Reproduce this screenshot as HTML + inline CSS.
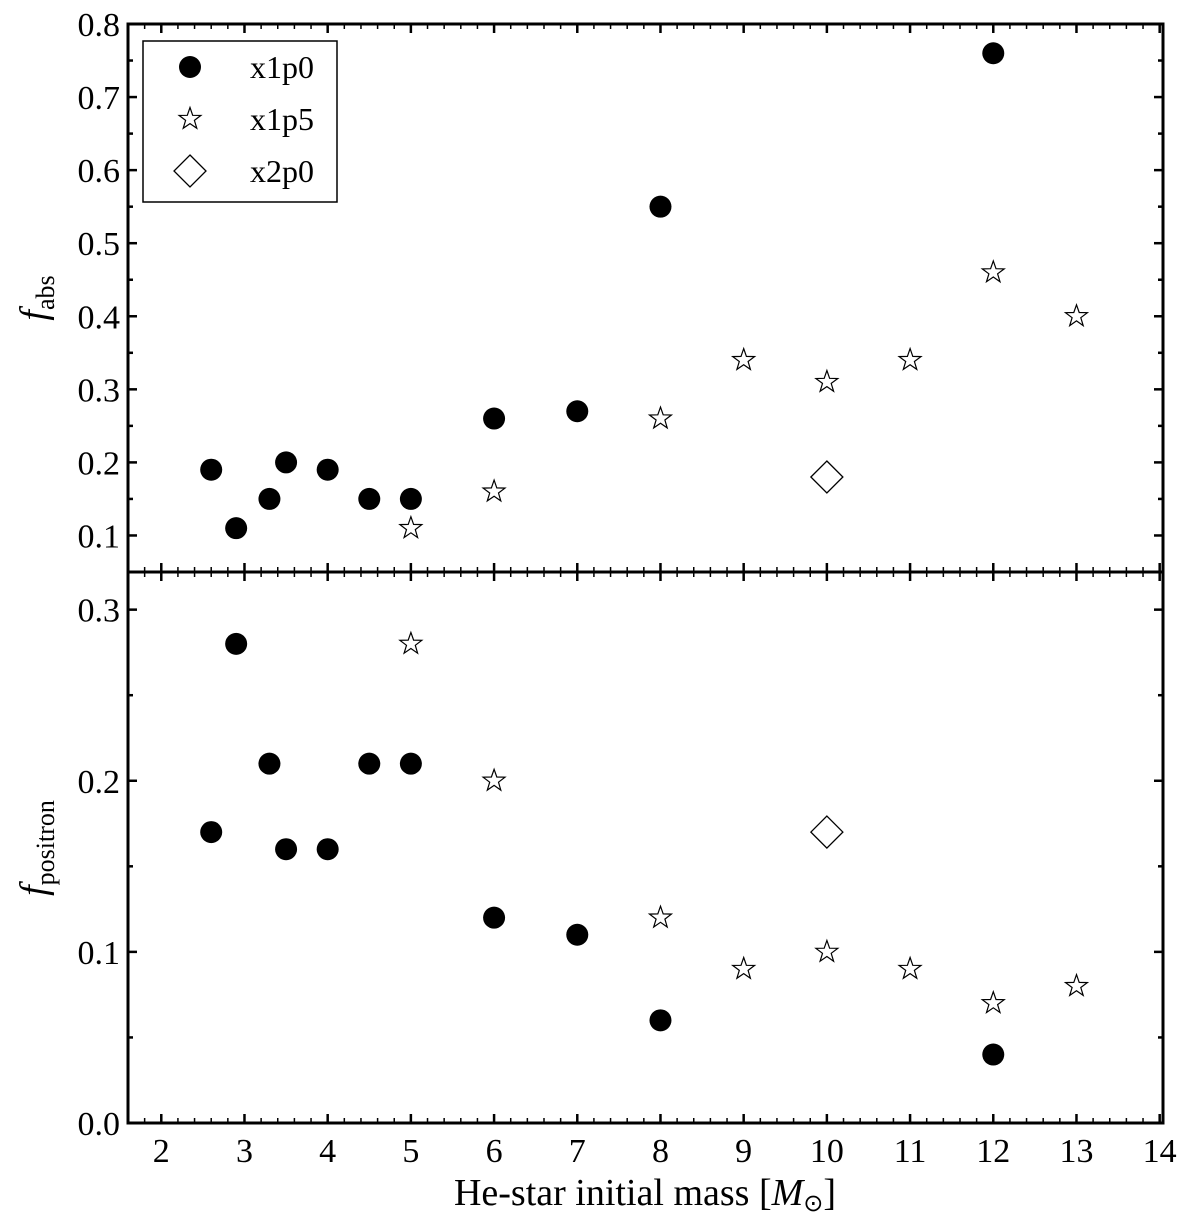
<!DOCTYPE html>
<html><head><meta charset="utf-8"><style>body{margin:0;background:#fff}svg{display:block}text{font-family:"Liberation Serif",serif;fill:#000}</style></head>
<body>
<svg id="c" width="1200" height="1220" viewBox="0 0 1200 1220"></svg>
<script>
const massA=[2.6,2.9,3.3,3.5,4,4.5,5,6,7,8,12];
const absA=[0.19,0.11,0.15,0.2,0.19,0.15,0.15,0.26,0.27,0.55,0.76];
const posA=[0.17,0.28,0.21,0.16,0.16,0.21,0.21,0.12,0.11,0.06,0.04];
const massB=[5,6,8,9,10,11,12,13];
const absB=[0.11,0.16,0.26,0.34,0.31,0.34,0.46,0.40];
const posB=[0.28,0.2,0.12,0.09,0.1,0.09,0.07,0.08];
const massC=[10];
const absC=[0.18];
const posC=[0.17];
const xTicks=[2,3,4,5,6,7,8,9,10,11,12,13,14];
const yTicksTop=[0.1,0.2,0.3,0.4,0.5,0.6,0.7,0.8];
const yTicksBot=[0.0,0.1,0.2,0.3];

const NS='http://www.w3.org/2000/svg';
const svg=document.getElementById('c');
function el(t,a,p){const e=document.createElementNS(NS,t);for(const k in a)e.setAttribute(k,a[k]);(p||svg).appendChild(e);return e;}
const L=128,R=1163,T=24,M=572,B=1123;
const X=v=>L+(v-1.6)/(14.04-1.6)*(R-L);
const YT=v=>M-(v-0.05)/(0.8-0.05)*(M-T);
const YB=v=>B-(v-0)/(0.322)*(B-M);

function panel(top,bot,Y,ticks,minorStep,lo,hi,name){
  const g=el('g',{});
  
  
  for(let v=1.6;v<=14.04;v+=0.2){
    const vv=Math.round(v*10)/10; const major=Math.abs(vv-Math.round(vv))<1e-6;
    const len=major?9:5,x=X(vv);
    el('line',{x1:x,y1:bot,x2:x,y2:bot-len,stroke:'#000','stroke-width':major?2.5:1.5},g);
    el('line',{x1:x,y1:top,x2:x,y2:top+len,stroke:'#000','stroke-width':major?2.5:1.5},g);
  }
  for(let v=lo;v<=hi+1e-9;v+=minorStep){
    const vv=Math.round(v*100)/100;
    const major=Math.abs(vv*10-Math.round(vv*10))<1e-6;
    const y=Y(vv); if(y<top-1||y>bot+1)continue;
    const len=major?9:5;
    el('line',{x1:L,y1:y,x2:L+len,y2:y,stroke:'#000','stroke-width':2.5},g);
    el('line',{x1:R,y1:y,x2:R-len,y2:y,stroke:'#000','stroke-width':2.5},g);
  }
  ticks.forEach(v=>{
    const t=el('text',{x:L-8,y:Y(v)+12,'text-anchor':'end','font-size':34},g);
    t.textContent=v.toFixed(1);
    
    
  });
  el('rect',{x:L,y:top,width:R-L,height:bot-top,fill:'none',stroke:'#000','stroke-width':3},g);
}
panel(T,M,YT,yTicksTop,0.05,0.05,0.8,'abs');
panel(M,B,YB,yTicksBot,0.05,0,0.32,'positron');

xTicks.forEach(v=>{
  const t=el('text',{x:X(v),y:1162,'text-anchor':'middle','font-size':34});
  t.textContent=v;
  
  
});

function circ(x,y,name){const c=el('circle',{cx:x,cy:y,r:11,fill:'#000'});}
function star(x,y,name){let p=[];for(let i=0;i<10;i++){const r=i%2?4.6:11.5,a=-Math.PI/2+i*Math.PI/5;p.push((x+r*Math.cos(a)).toFixed(1)+','+(y+r*Math.sin(a)).toFixed(1));}
  const s=el('polygon',{points:p.join(' '),fill:'#fff',stroke:'#000','stroke-width':1.2});}
function dia(x,y,name){const d=el('polygon',{points:`${x},${y-16} ${x+16},${y} ${x},${y+16} ${x-16},${y}`,fill:'#fff',stroke:'#000','stroke-width':1.3});}

massA.forEach((m,i)=>{circ(X(m),YT(absA[i]),'x1p0-abs-point');circ(X(m),YB(posA[i]),'x1p0-positron-point');});
massB.forEach((m,i)=>{star(X(m),YT(absB[i]),'x1p5-abs-point');star(X(m),YB(posB[i]),'x1p5-positron-point');});
massC.forEach((m,i)=>{dia(X(m),YT(absC[i]),'x2p0-abs-point');dia(X(m),YB(posC[i]),'x2p0-positron-point');});

const lg=el('g',{});


el('rect',{x:143,y:41,width:194,height:161,fill:'#fff',stroke:'#000','stroke-width':1.5},lg);
circ(190,67,'legend-marker-x1p0');star(190,119,'legend-marker-x1p5');dia(190,171,'legend-marker-x2p0');
[['x1p0',78],['x1p5',130],['x2p0',182]].forEach(([s,y])=>{const t=el('text',{x:250,y:y,'font-size':32},lg);t.textContent=s;});

const yt1=el('text',{transform:'translate(46,298) rotate(-90)','text-anchor':'middle','font-size':38});
yt1.innerHTML='<tspan font-style="italic">f</tspan><tspan font-size="26" dy="8">abs</tspan>';


const yt2=el('text',{transform:'translate(46,848) rotate(-90)','text-anchor':'middle','font-size':38});
yt2.innerHTML='<tspan font-style="italic">f</tspan><tspan font-size="26" dy="8">positron</tspan>';


const xt=el('text',{x:645,y:1205,'text-anchor':'middle','font-size':38});
xt.innerHTML='He-star initial mass [<tspan font-style="italic">M</tspan><tspan font-size="24" dy="6">⊙</tspan><tspan dy="-6">]</tspan>';


</script>
</body></html>
